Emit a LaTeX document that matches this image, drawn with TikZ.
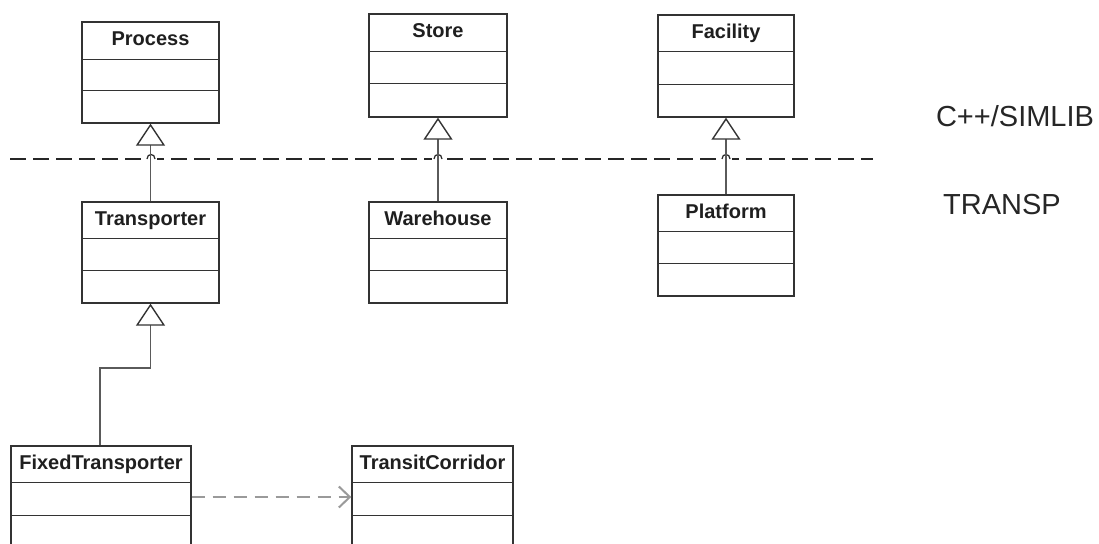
\documentclass[tikz,border=0pt]{standalone}
\usepackage{fontspec}
\setmainfont{Liberation Sans}
\usetikzlibrary{arrows.meta}
\definecolor{boxline}{HTML}{333333}
\definecolor{conline}{HTML}{5A5A5A}
\definecolor{depline}{HTML}{9A9A9A}
\begin{document}
\begin{tikzpicture}[x=1pt,y=-1pt,
  umlbox/.style={draw=boxline,line width=1.4pt,fill=white,inner sep=0pt},
  div/.style={draw=boxline,line width=1.4pt},
  ttl/.style={anchor=base,inner sep=0pt,text=black!88,font=\fontsize{20}{24}\selectfont\bfseries},
  lbl/.style={anchor=base,inner sep=0pt,text=black!85,font=\fontsize{29}{34}\selectfont},
  gen/.style={draw=conline,line width=1.4pt,-{Triangle[open,length=22pt,width=29pt,line width=1.4pt,color=boxline,fill=white]}},
  dep/.style={draw=depline,line width=2.4pt,dash pattern=on 13pt off 8pt,-{Straight Barb[length=11pt,width=21pt,line width=2pt]}},
  sep/.style={draw=black!85,line width=1.5pt,dash pattern=on 16pt off 7pt}]
\useasboundingbox (0,0) rectangle (1099,543);
\clip (0,0) rectangle (1099,543);
\fill[white] (0,0) rectangle (1099,543);

% layer separator
\draw[sep] (10,159) -- (873,159);
\foreach \x in {151,438,726}{
  \fill[white] (\x-6,154) rectangle (\x+6,164);
  \draw[black!85,line width=1.2pt] (\x-4,159) .. controls (\x-4,153) and (\x+4,153) .. (\x+4,159);
}
\node[lbl] (simlib) at (1015,126) {C++/SIMLIB};
\node[lbl] (transp) at (1002,214) {TRANSP};

% classes
\node[umlbox,minimum width=137pt,minimum height=101pt] (proc) at (150.5,72.5) {};
\node[umlbox,minimum width=138pt,minimum height=103pt] (store) at (438,65.5) {};
\node[umlbox,minimum width=136pt,minimum height=102pt] (fac) at (726,66) {};
\node[umlbox,minimum width=137pt,minimum height=101pt] (trans) at (150.5,252.5) {};
\node[umlbox,minimum width=138pt,minimum height=101pt] (ware) at (438,252.5) {};
\node[umlbox,minimum width=136pt,minimum height=101pt] (plat) at (726,245.5) {};
\node[umlbox,minimum width=180pt,minimum height=120pt] (fixed) at (101,506) {};
\node[umlbox,minimum width=161pt,minimum height=120pt] (corr) at (432.5,506) {};

\foreach \n/\a/\b in {proc/38/69,store/38/70,fac/37/70,trans/37/69,ware/37/69,plat/37/69,fixed/37/70,corr/37/70}{
  \draw[div] ([yshift=-\a pt]\n.north west) -- ([yshift=-\a pt]\n.north east);
  \draw[div] ([yshift=-\b pt]\n.north west) -- ([yshift=-\b pt]\n.north east);
}

\node[ttl] (tproc) at ([yshift=-24pt]proc.north) {Process};
\node[ttl] (tstore) at ([yshift=-24pt]store.north) {Store};
\node[ttl] (tfac) at ([yshift=-24pt]fac.north) {Facility};
\node[ttl] (ttrans) at ([yshift=-24pt]trans.north) {Transporter};
\node[ttl] (tware) at ([yshift=-24pt]ware.north) {Warehouse};
\node[ttl] (tplat) at ([yshift=-24pt]plat.north) {Platform};
\node[ttl] (tfixed) at ([yshift=-24pt]fixed.north) {FixedTransporter};
\node[ttl] (tcorr) at ([yshift=-24pt]corr.north) {TransitCorridor};

% generalizations
\draw[gen] (trans.north) -- (proc.south);
\draw[gen] (ware.north) -- (store.south);
\draw[gen] (plat.north) -- (fac.south);
\coordinate (bend) at (100,368);
\draw[gen] (fixed.north -| bend) -- (bend) -- (bend -| trans.south) -- (trans.south);

% dependency
\coordinate (dy) at (0,497);
\draw[dep] (fixed.east |- dy) -- (corr.west |- dy);
\end{tikzpicture}
\end{document}
